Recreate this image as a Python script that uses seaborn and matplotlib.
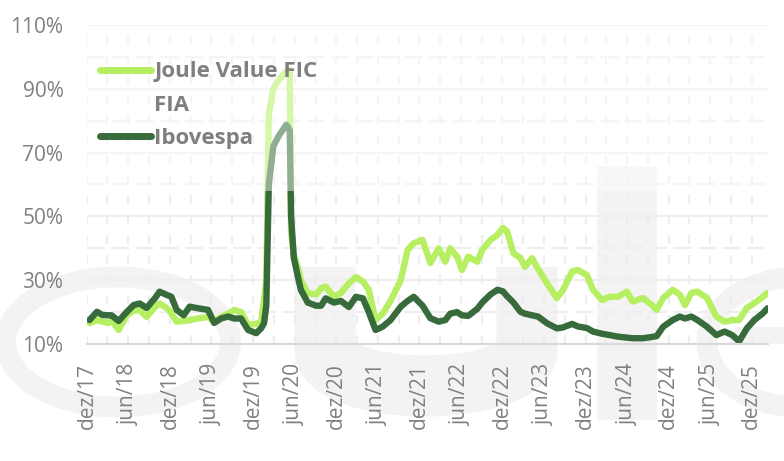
#volatility chart - Joule Value FIC FIA vs Ibovespa

import numpy as np
import pandas as pd
import seaborn as sns
import matplotlib.pyplot as plt
import matplotlib.dates as mdates
from matplotlib.patches import Ellipse, Rectangle
from matplotlib.lines import Line2D

#values (%)
dates = [
    "2017-12-12", "2018-01-14", "2018-02-06", "2018-03-06", "2018-03-19", "2018-04-19", "2018-05-24",
    "2018-06-24", "2018-07-20", "2018-08-20", "2018-09-25", "2018-10-16", "2018-11-16", "2018-12-07",
    "2018-12-30", "2019-01-30", "2019-02-25", "2019-04-03", "2019-05-17", "2019-06-13", "2019-07-13",
    "2019-08-13", "2019-09-09", "2019-10-09", "2019-11-09", "2019-12-15", "2020-01-06", "2020-01-18",
    "2020-01-28", "2020-02-08", "2020-02-28", "2020-03-25", "2020-04-25", "2020-05-10", "2020-05-16",
    "2020-05-28", "2020-06-15", "2020-06-28", "2020-07-28", "2020-09-03", "2020-09-25", "2020-10-15",
    "2020-11-20", "2020-12-21", "2021-01-25", "2021-02-25", "2021-03-28", "2021-04-22", "2021-05-22",
    "2021-06-22", "2021-07-27", "2021-09-10", "2021-10-10", "2021-11-06", "2021-12-15", "2022-01-18",
    "2022-02-24", "2022-03-25", "2022-04-15", "2022-05-15", "2022-06-06", "2022-07-03", "2022-08-12",
    "2022-09-03", "2022-10-09", "2022-11-09", "2022-12-03", "2022-12-21", "2023-01-18", "2023-02-18",
    "2023-03-10", "2023-04-10", "2023-05-06", "2023-06-15", "2023-07-28", "2023-08-24", "2023-10-03",
    "2023-10-28", "2023-12-07", "2024-01-03", "2024-02-12", "2024-03-16", "2024-04-21", "2024-05-31",
    "2024-06-25", "2024-08-09", "2024-09-18", "2024-10-09", "2024-11-06", "2024-12-18", "2025-01-18",
    "2025-02-10", "2025-03-10", "2025-04-06", "2025-05-18", "2025-06-28", "2025-08-03", "2025-09-06",
    "2025-10-06", "2025-11-09", "2025-12-12", "2026-01-18", "2026-02-08",
]

joule = [
    16.5, 17.5, 17.0, 16.6, 17.5, 14.4, 19.0, 20.5, 20.7, 18.5,
    21.5, 22.7, 21.3, 19.7, 17.0, 17.2, 17.5, 18.0, 18.5, 17.0,
    18.5, 19.5, 20.7, 20.0, 16.0, 16.3, 17.0, 24.0, 30.0, 82.0,
    90.0, 93.0, 95.5, 96.0, 45.0, 38.0, 34.0, 30.0, 26.0, 25.5,
    27.5, 28.0, 24.8, 26.0, 29.0, 31.0, 29.6, 27.0, 17.5, 19.5,
    23.5, 30.0, 39.5, 41.6, 42.6, 35.4, 40.0, 35.8, 40.0, 37.4,
    33.2, 37.4, 35.8, 39.5, 42.6, 44.2, 46.4, 45.3, 38.5, 36.9,
    34.2, 36.9, 33.6, 29.0, 24.4, 26.9, 32.7, 33.2, 31.6, 27.0,
    23.8, 24.8, 24.8, 26.4, 23.3, 24.4, 22.2, 20.7, 24.4, 27.0,
    25.5, 22.2, 26.0, 26.4, 24.4, 18.6, 17.0, 17.5, 17.5, 21.3,
    22.8, 24.8, 26.0,
]

ibov = [
    17.5, 20.1, 19.1, 19.0, 19.0, 17.2, 20.0, 22.2, 22.7, 21.3,
    24.3, 26.4, 25.4, 24.8, 20.7, 19.0, 21.7, 21.2, 20.7, 16.6,
    18.0, 18.6, 18.0, 18.0, 14.4, 13.4, 15.0, 16.5, 22.0, 60.0,
    72.0, 75.5, 78.7, 77.0, 50.0, 37.0, 31.0, 27.0, 23.0, 22.0,
    22.0, 24.3, 23.0, 23.5, 21.6, 24.8, 24.3, 20.1, 14.4, 15.4,
    17.5, 21.7, 23.5, 24.8, 22.0, 18.1, 17.0, 17.5, 19.5, 20.0,
    19.0, 18.8, 21.0, 23.0, 25.5, 27.0, 26.5, 25.0, 23.0, 20.1,
    19.5, 19.0, 18.6, 16.5, 14.9, 15.2, 16.3, 15.5, 15.0, 13.9,
    13.2, 12.8, 12.3, 12.0, 11.8, 11.8, 12.2, 12.5, 15.4, 17.5,
    18.6, 18.0, 18.6, 17.5, 15.4, 12.8, 13.9, 12.8, 10.8, 14.9,
    17.5, 19.6, 21.2,
]

series_names = ["Joule Value FIC FIA", "Ibovespa"]
series_colors = ["#b6ef62", "#386b3c"]

tick_dates = ["2017-12-01", "2018-06-01", "2018-12-01", "2019-06-01", "2019-12-01", "2020-06-01",
              "2020-12-01", "2021-06-01", "2021-12-01", "2022-06-01", "2022-12-01", "2023-06-01",
              "2023-12-01", "2024-06-01", "2024-12-01", "2025-06-01", "2025-12-01"]
tick_labels = ["dez/17", "jun/18", "dez/18", "jun/19", "dez/19", "jun/20", "dez/20", "jun/21",
               "dez/21", "jun/22", "dez/22", "jun/23", "dez/23", "jun/24", "dez/24", "jun/25", "dez/25"]
y_ticks = [10, 30, 50, 70, 90, 110]

df = pd.DataFrame({
    "date": pd.to_datetime(dates * 2),
    "vol": joule + ibov,
    "serie": [series_names[0]] * len(joule) + [series_names[1]] * len(ibov),
})

sns.set_style("white")
plt.rcParams["font.family"] = ["Open Sans", "DejaVu Sans"]

fig = plt.figure(figsize=(7.84, 4.61), dpi=100)

#watermark behind the chart
bg = fig.add_axes([0, 0, 1, 1], zorder=-1)
bg.set_xlim(0, 784)
bg.set_ylim(461, 0)
bg.axis("off")
wm = "#f3f3f3"
bg.add_patch(Ellipse((118, 342), 225, 130, fill=False, ec=wm, lw=15))
t = np.linspace(0, np.pi, 40)
ux = np.concatenate([[325], 426 - 101 * np.cos(t), [527]])
uy = np.concatenate([[267], 350 + 36 * np.sin(t), [267]])
bg.plot(ux, uy, color=wm, lw=44, solid_capstyle="butt", solid_joinstyle="round")
bg.add_patch(Rectangle((597, 166), 60, 254, color=wm, lw=0))
bg.add_patch(Ellipse((800, 342), 186, 130, fill=False, ec=wm, lw=15))
bg.add_patch(Rectangle((735, 327), 60, 17, color=wm, lw=0))

ax = fig.add_axes([87 / 784, 1 - 344 / 461, 681 / 784, 319 / 461])
ax.set_facecolor("none")

sns.lineplot(data=df, x="date", y="vol", hue="serie", hue_order=series_names,
             palette=series_colors, linewidth=4.6, ax=ax, zorder=2)

#upper part of the chart is washed out
ax.axhspan(58, 110, color="white", alpha=0.45, lw=0, zorder=2.5)

ax.set_ylim(10, 110)
ax.set_xlim(pd.Timestamp("2017-12-10"), pd.Timestamp("2026-02-10"))
ax.set_yticks(y_ticks)
ax.set_yticklabels([f"{v}%" for v in y_ticks])
ax.set_yticks(range(20, 110, 20), minor=True)
ax.set_xticks(pd.to_datetime(tick_dates))
ax.set_xticklabels(tick_labels, rotation=90)
ax.xaxis.set_minor_locator(mdates.MonthLocator(bymonth=[3, 6, 9, 12]))
ax.tick_params(which="both", length=0)
ax.tick_params(axis="y", pad=17, labelsize=15, labelcolor="#808080")
ax.tick_params(axis="x", pad=14, labelsize=15, labelcolor="#808080")
ax.set_xlabel("")
ax.set_ylabel("")

ax.set_axisbelow(True)
ax.grid(axis="y", which="major", color="#eeeeee", lw=1.6, ls="-")
ax.grid(axis="y", which="minor", color="#eeeeee", lw=1.6, ls=(0, (8, 3)))
ax.grid(axis="x", which="both", color="#eeeeee", lw=1.6, ls=(0, (4, 5)))
for side in ["top", "right", "left"]:
    ax.spines[side].set_visible(False)
ax.spines["bottom"].set_color("#d9d9d9")
ax.spines["bottom"].set_linewidth(1.5)

#legend: the long name wraps onto a second row with no handle
handles, labels = ax.get_legend_handles_labels()
blank = Line2D([], [], color="none")
leg = ax.legend([handles[0], blank, handles[1]], ["Joule Value FIC", "FIA", "Ibovespa"],
                loc="upper left", bbox_to_anchor=(0.019, 0.886), frameon=False,
                prop={"family": "Open Sans", "weight": "bold", "size": 16}, labelcolor="#7f7f7f",
                handlelength=2.3, handletextpad=0.15, labelspacing=0.55, borderpad=0, borderaxespad=0)
for h in leg.legend_handles:
    h.set_linewidth(5)

fig.savefig("out.png", dpi=100)
